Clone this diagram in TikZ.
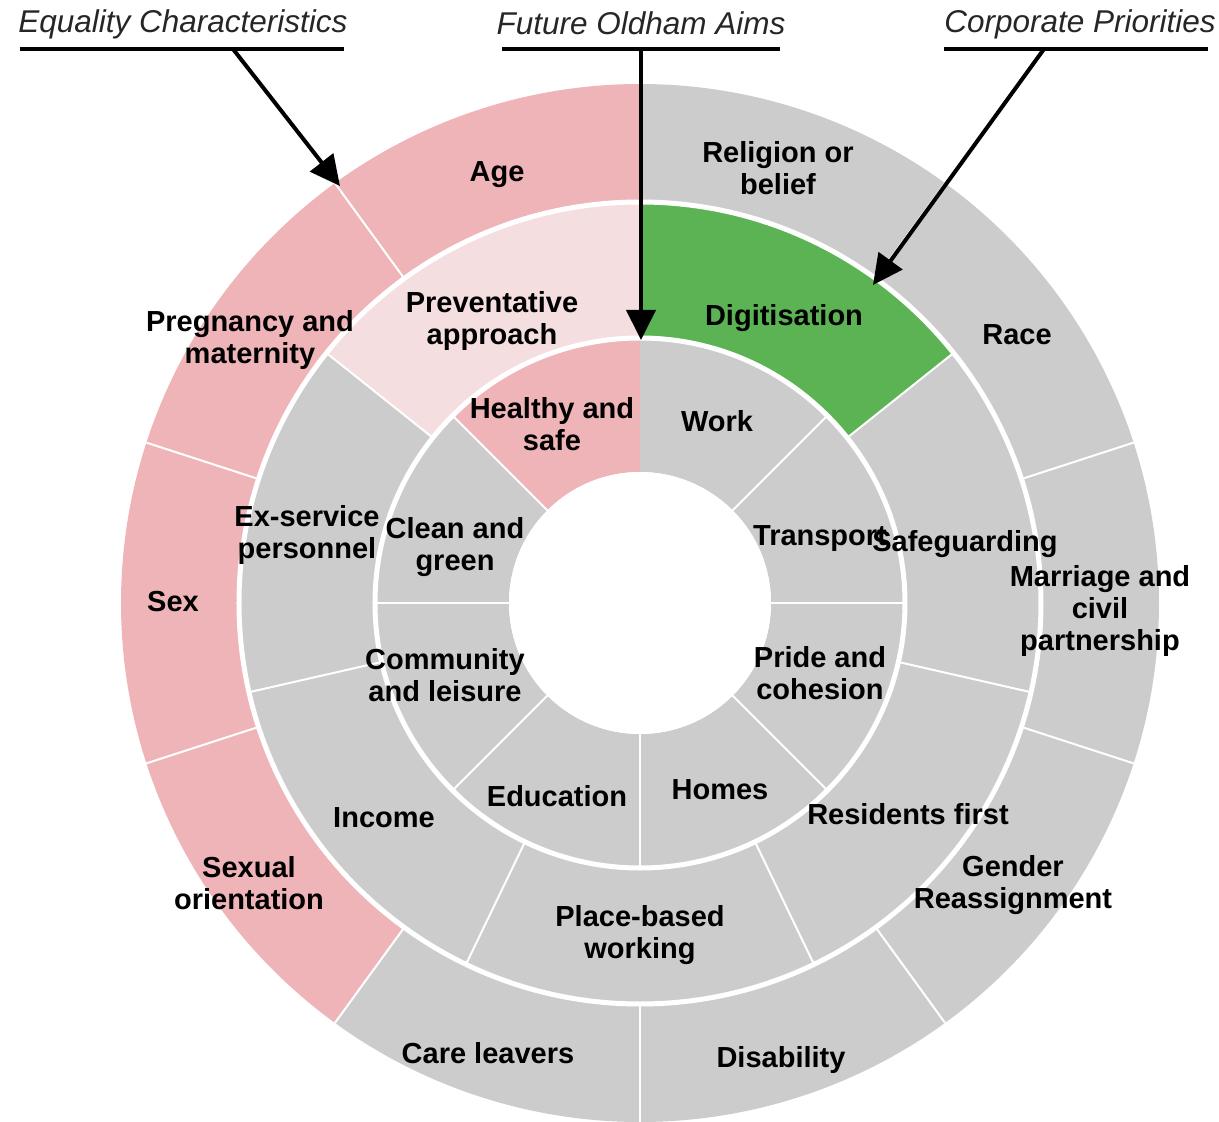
\documentclass[tikz,border=0pt]{standalone}
\usepackage{fontspec}
\setmainfont{Liberation Sans}
\usetikzlibrary{arrows.meta, positioning}

\definecolor{eqpink}{RGB}{239,180,184}
\definecolor{palepink}{RGB}{245,222,224}
\definecolor{digigreen}{RGB}{91,179,83}
\definecolor{ringgray}{RGB}{204,204,204}
\definecolor{headgray}{RGB}{38,38,38}

\begin{document}
\begin{tikzpicture}[x=1pt, y=1pt,
  lbl/.style={align=center, inner sep=0pt, font=\fontsize{29}{32}\selectfont\bfseries},
  head/.style={inner sep=0pt, text=headgray, font=\fontsize{31.5}{36}\selectfont\itshape},
  pointer/.style={line width=4pt, -{Triangle[length=30pt,width=29pt]}},
  underline/.style={line width=4pt},
  gap/.style={white, line width=5pt},
  sep/.style={white, line width=2pt}]
\useasboundingbox (-640,-519) rectangle (579,603);

% outer ring
\foreach \a/\c in {90/eqpink,126/eqpink,162/eqpink,198/eqpink,234/ringgray,270/ringgray,306/ringgray,342/ringgray,18/ringgray,54/ringgray}{
  \pgfmathsetmacro\b{\a+36}
  \fill[\c] (\a:401) arc[start angle=\a, end angle=\b, radius=401] -- (\b:519) arc[start angle=\b, end angle=\a, radius=519] -- cycle;
}
% middle ring
\foreach \k/\c in {0/palepink,1/ringgray,2/ringgray,3/ringgray,4/ringgray,5/ringgray,6/digigreen}{
  \pgfmathsetmacro\a{90+360/7*\k}
  \pgfmathsetmacro\b{\a+360/7}
  \fill[\c] (\a:265) arc[start angle=\a, end angle=\b, radius=265] -- (\b:401) arc[start angle=\b, end angle=\a, radius=401] -- cycle;
}
% inner ring
\foreach \a/\c in {0/ringgray,45/ringgray,90/eqpink,135/ringgray,180/ringgray,225/ringgray,270/ringgray,315/ringgray}{
  \pgfmathsetmacro\b{\a+45}
  \fill[\c] (\a:131) arc[start angle=\a, end angle=\b, radius=131] -- (\b:265) arc[start angle=\b, end angle=\a, radius=265] -- cycle;
}

% white separators
\foreach \a in {126,162,...,414}
  \draw[sep] (\a:401) -- (\a:519);
\foreach \k in {1,...,6}
  \draw[sep] ({90+360/7*\k}:265) -- ({90+360/7*\k}:401);
\foreach \a in {0,45,135,180,...,315}
  \draw[sep] (\a:131) -- (\a:265);
\draw[gap] (0,0) circle[radius=265];
\draw[gap] (0,0) circle[radius=401];
\fill[white] (0,0) circle[radius=131];

% equality characteristics
\node[lbl] (age) at (-143,428) {Age};
\node[lbl] (religion) at (138,435) {Religion or\\belief};
\node[lbl] (race) at (377,268) {Race};
\node[lbl] (marriage) at (460,-8) {Marriage and\\civil\\partnership};
\node[lbl] (gender) at (373,-282) {Gender\\Reassignment};
\node[lbl] (disability) at (141,-457) {Disability};
\node[lbl] (care) at (-152,-450) {Care leavers};
\node[lbl] (sexor) at (-391,-280) {Sexual\\orientation};
\node[lbl] (sex) at (-467,1) {Sex};
\node[lbl] (pregnancy) at (-390,263) {Pregnancy and\\maternity};

% corporate priorities
\node[lbl] (prevent) at (-148,282) {Preventative\\approach};
\node[lbl] (digital) at (144,285) {Digitisation};
\node[lbl] (safeguard) at (325,59) {Safeguarding};
\node[lbl] (residents) at (268,-211) {Residents first};
\node[lbl] (place) at (0,-332) {Place-based\\working};
\node[lbl] (income) at (-256,-215) {Income};
\node[lbl] (exservice) at (-333,68) {Ex-service\\personnel};

% future oldham aims
\node[lbl] (healthy) at (-88,179) {Healthy and\\safe};
\node[lbl] (work) at (77,182) {Work};
\node[lbl] (transport) at (180,64) {Transport};
\node[lbl] (pride) at (180,-70) {Pride and\\cohesion};
\node[lbl] (homes) at (80,-187) {Homes};
\node[lbl] (education) at (-83,-193) {Education};
\node[lbl] (community) at (-195,-72) {Community\\and leisure};
\node[lbl] (clean) at (-185,56) {Clean and\\green};

% headings and pointers
\node[head] (eqhead) at (-457,579) {Equality Characteristics};
\node[head] (aimshead) at (1,580) {Future Oldham Aims};
\node[head] (corphead) at (440,579) {Corporate Priorities};
\draw[underline] (-620,554) -- (-296,554);
\draw[underline] (-138,554) -- (140,554);
\draw[underline] (304,554) -- (568,554);
\coordinate (eqfoot) at (-407,554);
\coordinate (aimsfoot) at (1,554);
\coordinate (corpfoot) at (404,554);
\coordinate (eqtip) at (-300,417);
\coordinate (aimstip) at (1,263);
\coordinate (corptip) at (233,318);
\draw[pointer] (eqfoot) -- (eqtip);
\draw[pointer] (aimsfoot) -- (aimstip);
\draw[pointer] (corpfoot) -- (corptip);
\end{tikzpicture}
\end{document}
